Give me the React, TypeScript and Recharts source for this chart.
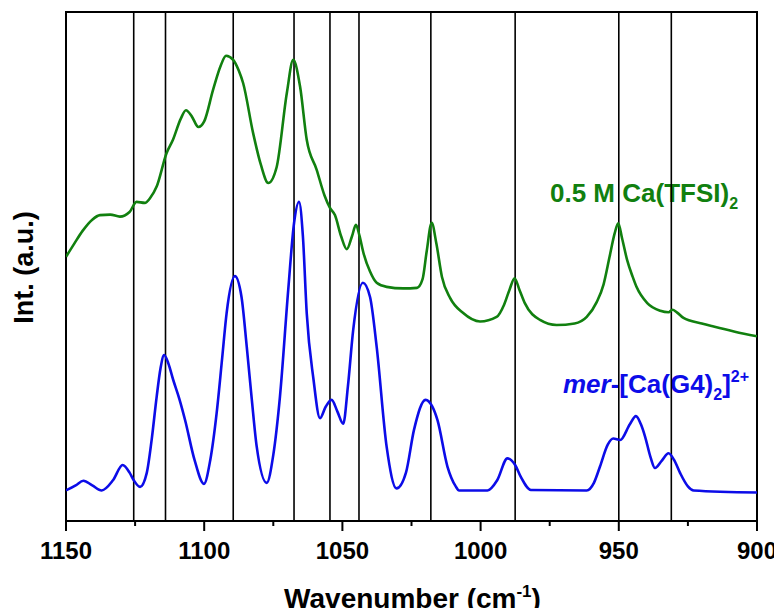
import React from 'react';
import { LineChart, Line, XAxis, YAxis, ReferenceLine, ReferenceArea } from 'recharts';

// 0.5 M Ca(TFSI)2 spectrum
const tfsiWavenumber = [
  1150, 1147, 1144, 1140.5, 1137.7, 1134, 1130.5, 1127, 1124.5, 1121.5, 1119.5, 1117.2, 1113.6, 1111.3,
  1108.5, 1106.6, 1104.5, 1102.1, 1100, 1096.8, 1094, 1092.1, 1089.5, 1087.5, 1085.9, 1082.3, 1079.5,
  1076.8, 1073.8, 1070.1, 1067.8, 1065.3, 1062.9, 1059.3, 1056.5, 1054.5, 1052.7, 1050.5, 1048.4, 1046.5,
  1045.1, 1043.8, 1042.4, 1040, 1037.6, 1034, 1028, 1023, 1021, 1019.5, 1017.7, 1016, 1014, 1011, 1006.4,
  1000.2, 994.2, 991.5, 989.5, 987.7, 986, 984, 978.5, 972.5, 966, 961.6, 958, 955.5, 953.3, 951.5, 950.2,
  948.8, 947, 945, 943.6, 939.7, 935, 932, 930.6, 929, 926.6, 920, 915.7, 908, 900,
];
const tfsiIntensity = [
  0.519, 0.545, 0.57, 0.592, 0.601, 0.602, 0.598, 0.607, 0.627, 0.625, 0.635, 0.657, 0.723, 0.749,
  0.79, 0.807, 0.795, 0.774, 0.785, 0.847, 0.895, 0.914, 0.906, 0.885, 0.86, 0.762, 0.7,
  0.664, 0.695, 0.841, 0.906, 0.853, 0.749, 0.69, 0.64, 0.615, 0.601, 0.56, 0.534, 0.56,
  0.582, 0.56, 0.527, 0.49, 0.468, 0.46, 0.457, 0.458, 0.475, 0.53, 0.586, 0.545, 0.48, 0.438, 0.409,
  0.392, 0.401, 0.425, 0.455, 0.477, 0.455, 0.428, 0.395, 0.385, 0.388, 0.401, 0.43, 0.465, 0.52, 0.565, 0.585,
  0.555, 0.513, 0.48, 0.46, 0.428, 0.413, 0.41, 0.415, 0.41, 0.399, 0.388, 0.382, 0.372, 0.363,
];

// mer-[Ca(G4)2]2+ spectrum
const g4Wavenumber = [
  1150, 1146.5, 1143.7, 1140.5, 1137.1, 1133, 1129.5, 1127, 1125.6, 1123.2, 1120.8, 1119, 1117.2, 1115.8,
  1114.5, 1113, 1111.2, 1109, 1106.9, 1103.5, 1100.1, 1097.8, 1095.5, 1093.5, 1091.9, 1088.9, 1086.5,
  1084.6, 1082.8, 1081, 1077.4, 1075, 1072.6, 1069.6, 1067.5, 1065.7, 1064.3, 1062.9, 1060.5, 1058.1,
  1056, 1053.9, 1051.8, 1049.7, 1048, 1046.1, 1042.6, 1040, 1037.6, 1034, 1030.4, 1027, 1024.1, 1019.9,
  1017.5, 1015.6, 1012, 1009, 1007.8, 997.5, 994, 990.3, 987.5, 985.5, 981.8, 961.6, 959, 956.8, 954,
  952, 949.5, 946, 943.8, 942, 940.5, 938.5, 936.9, 934.5, 932, 930, 927.8, 925, 922.9, 900,
];
const g4Intensity = [
  0.06, 0.07, 0.079, 0.07, 0.06, 0.08, 0.11, 0.095, 0.081, 0.067, 0.094, 0.16, 0.244, 0.3,
  0.326, 0.31, 0.277, 0.24, 0.198, 0.12, 0.073, 0.12, 0.212, 0.32, 0.408, 0.481, 0.44,
  0.342, 0.24, 0.146, 0.075, 0.13, 0.244, 0.454, 0.585, 0.627, 0.56, 0.408, 0.28, 0.202,
  0.225, 0.238, 0.215, 0.191, 0.265, 0.375, 0.468, 0.44, 0.342, 0.146, 0.064, 0.095, 0.179, 0.238,
  0.225, 0.198, 0.107, 0.068, 0.06, 0.06, 0.08, 0.123, 0.11, 0.087, 0.061, 0.06, 0.075, 0.107, 0.15,
  0.162, 0.159, 0.19, 0.206, 0.19, 0.166, 0.125, 0.104, 0.118, 0.133, 0.12, 0.094, 0.068, 0.06, 0.056,
];

const peakLines = [1125.5, 1114, 1089.5, 1067.5, 1054.5, 1044, 1018, 987.5, 950, 931];
const axisTicks = [1150, 1125, 1100, 1075, 1050, 1025, 1000, 975, 950, 925, 900];
const labelledTicks = [1150, 1100, 1050, 1000, 950, 900];

const tfsiData = tfsiWavenumber.map((x, i) => ({ x, y: tfsiIntensity[i] }));
const g4Data = g4Wavenumber.map((x, i) => ({ x, y: g4Intensity[i] }));

const GREEN = '#11800f';
const BLUE = '#0c0ce8';
const FONT = '"Liberation Sans", Arial, sans-serif';

const Tick = (props: any) => {
  const { x, y, payload } = props;
  const major = labelledTicks.includes(payload.value);
  return (
    <g>
      <line x1={x} x2={x} y1={y} y2={y + (major ? 10 : 5)} stroke="#000" strokeWidth={2} />
      {major && (
        <text x={x} y={y + 38} textAnchor="middle" fontSize={24} fontWeight="bold" fontFamily={FONT} fill="#000">
          {payload.value}
        </text>
      )}
    </g>
  );
};

export default function App() {
  return (
    <div style={{ width: 782, height: 616, margin: -8 }}>
      <LineChart width={782} height={616} margin={{ top: 12, right: 25, bottom: 35, left: 66 }}>
        <XAxis
          type="number"
          dataKey="x"
          domain={[900, 1150]}
          reversed
          allowDataOverflow
          ticks={axisTicks}
          interval={0}
          tickLine={false}
          axisLine={false}
          tickSize={0}
          tickMargin={0}
          height={60}
          tick={<Tick />}
        />
        <YAxis hide domain={[0, 1]} type="number" />
        {peakLines.map((p) => (
          <ReferenceLine key={p} x={p} stroke="#000" strokeWidth={1.6} />
        ))}
        <Line data={tfsiData} dataKey="y" type="monotone" stroke={GREEN} strokeWidth={2.6} dot={false} isAnimationActive={false} />
        <Line data={g4Data} dataKey="y" type="monotone" stroke={BLUE} strokeWidth={2.6} dot={false} isAnimationActive={false} />
        <ReferenceArea x1={1150} x2={900} y1={0} y2={1} fill="none" stroke="#000" strokeWidth={2} ifOverflow="visible" />
        <text x={33} y={267.5} transform="rotate(-90 33 267.5)" textAnchor="middle" fontSize={27} fontWeight="bold" fontFamily={FONT} fill="#000">
          Int. (a.u.)
        </text>
        <text x={412.5} y={608} textAnchor="middle" fontSize={28} fontWeight="bold" fontFamily={FONT} fill="#000">
          Wavenumber (cm<tspan dy={-11} fontSize={17}>-1</tspan><tspan dy={11}>)</tspan>
        </text>
        <text x={550} y={202} fontSize={26} fontWeight="bold" fontFamily={FONT} fill={GREEN}>
          0.5 M Ca(TFSI)<tspan dy={7} fontSize={16}>2</tspan>
        </text>
        <text x={563} y={393} fontSize={26} fontWeight="bold" fontFamily={FONT} fill={BLUE}>
          <tspan fontStyle="italic">mer</tspan>-[Ca(G4)<tspan dy={7} fontSize={16}>2</tspan>
          <tspan dy={-7}>]</tspan>
          <tspan dy={-11} fontSize={16}>2+</tspan>
        </text>
      </LineChart>
    </div>
  );
}
